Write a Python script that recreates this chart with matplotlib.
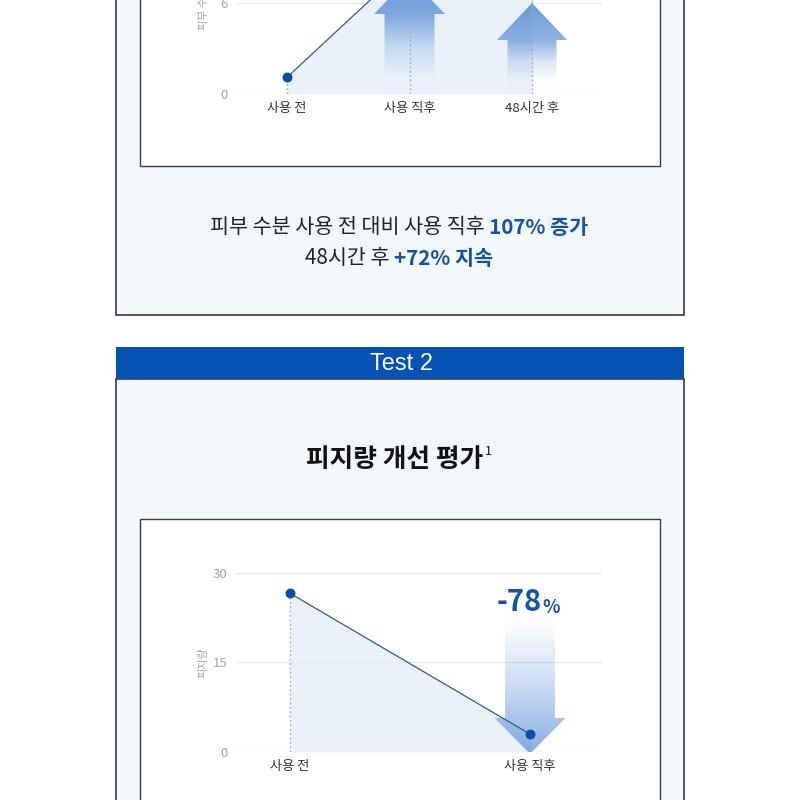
import numpy as np
import matplotlib
matplotlib.use("Agg")
import matplotlib.pyplot as plt
from matplotlib.patches import Rectangle, Polygon
from matplotlib.colors import to_rgb

plt.rcParams['font.family'] = ['Noto Sans CJK KR', 'DejaVu Sans']

# ---- data ----
moist_labels = ['사용 전', '사용 직후', '48시간 후']
moist_values = [1.1, 8.6, 7.3]          # 피부 수분량 (top of chart is cut off)
moist_ticks = [0, 6, 12]

sebum_labels = ['사용 전', '사용 직후']
sebum_values = [26.6, 3.0]              # 피지량
sebum_ticks = [0, 15, 30]

# ---- colours ----
BLUE = '#0552b5'
DARK_BLUE = '#1652a3'
POINT = '#0d4ea6'
LINE = '#2d5a96'
PANEL_BG = '#f2f7fc'
FILL = '#e3ecf8'
ARROW = '#5a8ed6'
GRID = '#e6e9ee'
TICK = '#a3a3a3'
DOTS = '#95abc9'
TEXT = '#222222'

W = H = 800
fig = plt.figure(figsize=(8, 8), dpi=100)
fig.patch.set_facecolor('white')

# background layer in pixel coordinates
bg = fig.add_axes([0, 0, 1, 1])
bg.set_xlim(0, W)
bg.set_ylim(H, 0)
bg.axis('off')

# Test 1 panel (top cut off)
bg.add_patch(Rectangle((116, -20), 568, 335, facecolor=PANEL_BG, edgecolor='#3a3a3a', lw=1.2))
bg.add_patch(Rectangle((140, -20), 520, 186, facecolor='white', edgecolor='#3a3a3a', lw=1.0))

# Test 2 panel
bg.add_patch(Rectangle((116, 379), 568, 440, facecolor=PANEL_BG, edgecolor='#3a3a3a', lw=1.2))
bg.add_patch(Rectangle((116, 347), 568, 32, facecolor=BLUE, edgecolor='none'))
bg.add_patch(Rectangle((140, 519), 520, 300, facecolor='white', edgecolor='#3a3a3a', lw=1.0))

bg.text(401, 364, 'Test 2', color='white', fontsize=17, ha='center', va='center',
        family=['Liberation Sans', 'DejaVu Sans'])


def mixed_line(ax, cx, y, parts, fontsize):
    """Draw text pieces side by side, centred on cx."""
    texts = []
    first = ax.text(cx, y, parts[0][0], color=parts[0][1], fontweight=parts[0][2],
                    fontsize=fontsize, ha='left', va='baseline')
    texts.append(first)
    prev = first
    for s, c, w in parts[1:]:
        t = ax.annotate(s, xy=(1, 0), xycoords=prev, color=c, fontweight=w,
                        fontsize=fontsize, ha='left', va='bottom')
        texts.append(t)
        prev = t
    r = fig.canvas.get_renderer()
    x0 = texts[0].get_window_extent(r).x0
    x1 = texts[-1].get_window_extent(r).x1
    first.set_x(cx - (x1 - x0) / 2)
    return texts


mixed_line(bg, 399, 233, [('피부 수분 사용 전 대비 사용 직후 ', TEXT, 'normal'),
                          ('107% 증가', DARK_BLUE, 'bold')], 14.9)
mixed_line(bg, 399, 264, [('48시간 후 ', TEXT, 'normal'),
                          ('+72% 지속', DARK_BLUE, 'bold')], 14.9)

# title with superscript
title = bg.text(395, 467, '피지량 개선 평가', fontsize=18.5, fontweight='bold',
                color='#111111', ha='center', va='baseline')
bg.annotate('1', xy=(1, 0.55), xycoords=title, fontsize=9, color='#111111',
            ha='left', va='bottom', xytext=(1, 0), textcoords='offset points')


def px_axes(left, right, y_zero, px_per_unit, vmax):
    top = y_zero - vmax * px_per_unit
    return fig.add_axes([left / W, 1 - y_zero / H, (right - left) / W, (y_zero - top) / H])


def style_axes(ax, ticks, ylabel):
    ax.patch.set_visible(False)
    for s in ax.spines.values():
        s.set_visible(False)
    ax.set_yticks(ticks)
    ax.tick_params(axis='both', length=0, colors=TICK, labelsize=9.5)
    ax.tick_params(axis='y', pad=6)
    ax.tick_params(axis='x', pad=6, labelsize=9.5, labelcolor='#333333')
    ax.grid(axis='y', color=GRID, lw=0.9, zorder=0)
    ax.set_axisbelow(True)
    ax.set_ylabel(ylabel, color=TICK, fontsize=8, labelpad=3)


def gradient_arrow(ax, x, y_tail, y_head, y_tip, shaft_hw, head_hw, t_stops, a_stops):
    verts = [(x - shaft_hw, y_tail), (x - shaft_hw, y_head), (x - head_hw, y_head),
             (x, y_tip), (x + head_hw, y_head), (x + shaft_hw, y_head), (x + shaft_hw, y_tail)]
    poly = Polygon(verts, closed=True, facecolor='none', edgecolor='none')
    ax.add_patch(poly)
    n = 300
    lo, hi = min(y_tail, y_tip), max(y_tail, y_tip)
    ys = np.linspace(lo, hi, n)
    t = (ys - y_tail) / (y_tip - y_tail)
    img = np.zeros((n, 1, 4))
    img[..., :3] = to_rgb(ARROW)
    img[:, 0, 3] = np.interp(t, t_stops, a_stops)
    im = ax.imshow(img, extent=(x - head_hw, x + head_hw, lo, hi), origin='lower',
                   aspect='auto', interpolation='bilinear', zorder=2)
    im.set_clip_path(poly)


# ---- chart 1: 피부 수분량 ----
ax1 = px_axes(236, 602, 94, 15.17, 12)
x1 = np.arange(len(moist_labels))
ax1.set_xlim(-0.416, 2.571)
ax1.set_ylim(0, 12)
style_axes(ax1, moist_ticks, '피부 수분량')
ax1.set_xticks(x1, moist_labels)
ax1.fill_between(x1, moist_values, 0, color=FILL, alpha=0.7, lw=0, zorder=1)
gradient_arrow(ax1, x1[1], 0, 5.27, 7.7, 0.204, 0.29,
               [0, 0.15, 0.4, 0.68, 1], [0, 0.02, 0.25, 0.75, 0.9])
gradient_arrow(ax1, x1[2], 0, 3.56, 6.0, 0.20, 0.286,
               [0, 0.15, 0.35, 0.59, 1], [0, 0.02, 0.22, 0.68, 0.88])
ax1.vlines(x1, 0, moist_values, colors=DOTS, linestyles=(0, (1.5, 2)), lw=0.9, zorder=3)
ax1.plot(x1, moist_values, color=LINE, lw=0.9, zorder=4)
ax1.scatter(x1, moist_values, s=38, color=POINT, zorder=5)

# ---- chart 2: 피지량 ----
ax2 = px_axes(236, 602, 752, 5.967, 30)
x2 = np.arange(len(sebum_labels))
ax2.set_xlim(-0.225, 1.3)
ax2.set_ylim(0, 30)
style_axes(ax2, sebum_ticks, '피지량')
ax2.set_xticks(x2, sebum_labels)
ax2.fill_between(x2, sebum_values, 0, color=FILL, alpha=0.7, lw=0, zorder=1)
gradient_arrow(ax2, x2[1], 23.6, 5.7, -0.3, 0.104, 0.148,
               [0, 0.12, 0.5, 0.95, 1], [0, 0.04, 0.3, 0.68, 0.75])
ax2.vlines(x2, 0, sebum_values, colors=DOTS, linestyles=(0, (1.5, 2)), lw=0.9, zorder=3)
ax2.plot(x2, sebum_values, color=LINE, lw=0.9, zorder=4)
ax2.scatter(x2, sebum_values, s=38, color=POINT, zorder=5)

pct = bg.text(497, 611, '-78', fontsize=21, fontweight='bold', color=DARK_BLUE,
              ha='left', va='baseline')
bg.annotate('%', xy=(1, 0), xycoords=pct, fontsize=13, fontweight='bold', color=DARK_BLUE,
            ha='left', va='bottom')

fig.savefig('out.png', dpi=100)
